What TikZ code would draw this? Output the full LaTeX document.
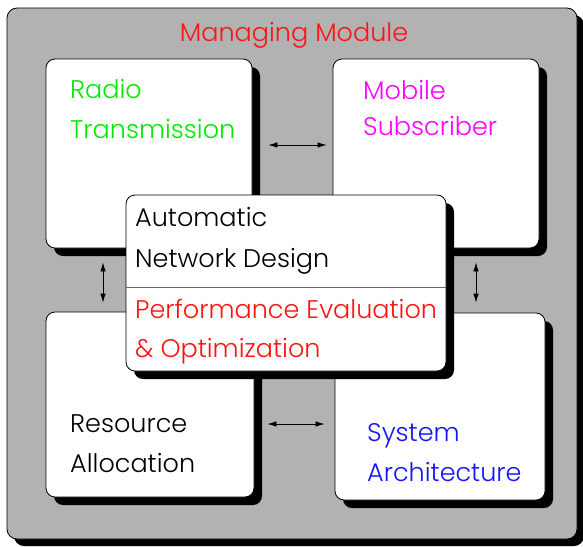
\documentclass[tikz,border=0pt]{standalone}
\usepackage{fontspec}
\setmainfont{Poppins}[UprightFont=* Light]
\usetikzlibrary{shadows,arrows.meta}
\definecolor{bggray}{gray}{0.70}
\definecolor{tgreen}{RGB}{0,235,0}
\definecolor{tmag}{RGB}{255,0,255}
\definecolor{tred}{RGB}{255,20,20}
\definecolor{tblue}{RGB}{20,20,255}
\tikzset{
  panel/.style={draw=black, line width=0.8pt, fill=white, rounded corners=9pt, inner sep=0pt,
    drop shadow={shadow xshift=8pt, shadow yshift=-8pt, fill=black, opacity=1}},
  lbl/.style={anchor=base west, inner sep=0pt, font=\fontsize{25.5}{30}\selectfont},
  arr/.style={{Latex[length=9pt,width=5.5pt]}-{Latex[length=9pt,width=5.5pt]}, line width=0.8pt}
}
\begin{document}
\begin{tikzpicture}[x=1pt,y=-1pt]
\useasboundingbox (0,0) rectangle (583,546);
\node[draw=black, line width=0.8pt, fill=bggray, rounded corners=10pt, inner sep=0pt,
  minimum width=570pt, minimum height=531pt,
  drop shadow={shadow xshift=7pt, shadow yshift=-7pt, fill=black, opacity=1}] (outer) at (292,273.5) {};
\node[lbl, text=tred, anchor=base] (title) at (294,41) {Managing Module};

\node[panel, minimum width=206pt, minimum height=189pt] (radio) at (149,153.5) {};
\node[panel, minimum width=206pt, minimum height=189pt] (mobile) at (436,153.5) {};
\node[panel, minimum width=208pt, minimum height=185pt] (resource) at (150,404.5) {};
\node[panel, minimum width=210pt, minimum height=187pt] (system) at (440,406.5) {};

\node[lbl, text=tgreen] (r1) at (70,98) {Radio};
\node[lbl, text=tgreen] (r2) at (70,138) {Transmission};
\node[lbl, text=tmag] (m1) at (363,99) {Mobile};
\node[lbl, text=tmag] (m2) at (363,135) {Subscriber};
\node[lbl] (a1) at (70,432) {Resource};
\node[lbl] (a2) at (70,472) {Allocation};
\node[lbl, text=tblue] (s1) at (367,441) {System};
\node[lbl, text=tblue] (s2) at (367,481) {Architecture};

\node[panel, minimum width=320pt, minimum height=176pt] (central) at (286,283) {};
\draw[black!60, line width=0.8pt] ([yshift=-4pt]central.west) coordinate (sepL) -- ([yshift=-4pt]central.east) coordinate (sepR);
\node[lbl] (c1) at (135,226) {Automatic};
\node[lbl] (c2) at (135,267) {Network Design};
\node[lbl, text=tred] (c3) at (135,318) {Performance Evaluation};
\node[lbl, text=tred] (c4) at (135,357) {\& Optimization};

\draw[arr, shorten <=16pt, shorten >=6pt] ([yshift=8.5pt]radio.east) -- ([yshift=8.5pt]mobile.west);
\draw[arr, shorten <=13pt, shorten >=10pt] ([yshift=-19.5pt]resource.east) -- ([yshift=-17.5pt]system.west);
\draw[arr, shorten <=14pt, shorten >=9pt] ([xshift=-46pt]radio.south) -- ([xshift=-47pt]resource.north);
\draw[arr, shorten <=14pt, shorten >=10pt] ([xshift=40pt]mobile.south) -- ([xshift=36pt]system.north);
\end{tikzpicture}
\end{document}
